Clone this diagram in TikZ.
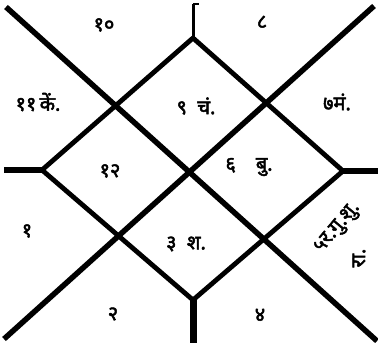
\documentclass[tikz,border=0pt]{standalone}
\usepackage{fontspec}
\newfontfamily\deva[Script=Devanagari,FakeBold=2.5]{Noto Sans}
\tikzset{
  frame/.style={line width=5.5pt, line cap=butt, line join=round},
  edge/.style={line width=4.8pt, line join=round},
  lbl/.style={font=\deva\fontsize{20}{22}\selectfont, inner sep=0pt}
}
\begin{document}
\begin{tikzpicture}[x=1pt,y=-1pt]
\useasboundingbox (0,0) rectangle (378,343);
% diagonals end points
\coordinate (a1) at (6,7);
\coordinate (a2) at (377,341);
\coordinate (b1) at (374,6);
\coordinate (b2) at (4,339);
% diamond vertices
\coordinate (T) at (193,38);
\coordinate (R) at (343,171);
\coordinate (B) at (193,300);
\coordinate (L) at (42,170);
% stem ends
\coordinate (Ttop) at (193,4);
\coordinate (Rend) at (378,171);
\coordinate (Bend) at (193,343);
\coordinate (Lend) at (4,170);
% crossings
\coordinate (TL) at (intersection of a1--a2 and T--L);
\coordinate (TR) at (intersection of b1--b2 and T--R);
\coordinate (BR) at (intersection of a1--a2 and R--B);
\coordinate (BL) at (intersection of b1--b2 and L--B);
% lines
\draw[frame] (a1) -- (a2);
\draw[frame] (b1) -- (b2);
\draw[edge] (T) -- (TR) -- (R) -- (BR) -- (B) -- (BL) -- (L) -- (TL) -- cycle;
\draw[line width=3pt] (T) -- (Ttop);
\draw[line width=1.5pt] (Ttop) -- ++(6,0);
\draw[line width=7pt] (B) -- (Bend);
\draw[line width=5.5pt] (L) -- (Lend);
\draw[line width=5.5pt] (R) -- (Rend);
% labels
\node[lbl] (h10) at (104,25) {१०};
\node[lbl] (h8) at (262,22) {८};
\node[lbl] (h11) at (38,102) {११\,कें.};
\node[lbl] (h9) at (196,106) {९\ \ चं.};
\node[lbl] (h7) at (337,102) {७मं.};
\node[lbl] (h12) at (110,171) {१२};
\node[lbl] (h6) at (249,167) {६\quad बु.};
\node[lbl] (h1) at (27,231) {१};
\node[lbl] (h3) at (186,244) {३\ \ श.};
\node[lbl] (h2) at (113,314) {२};
\node[lbl] (h4) at (260,315) {४};
\node[lbl, rotate=50] (h5) at (338,228) {५र.गु.शु.};
\node[lbl, rotate=90] (h5b) at (359,258) {रा.};
\end{tikzpicture}
\end{document}
